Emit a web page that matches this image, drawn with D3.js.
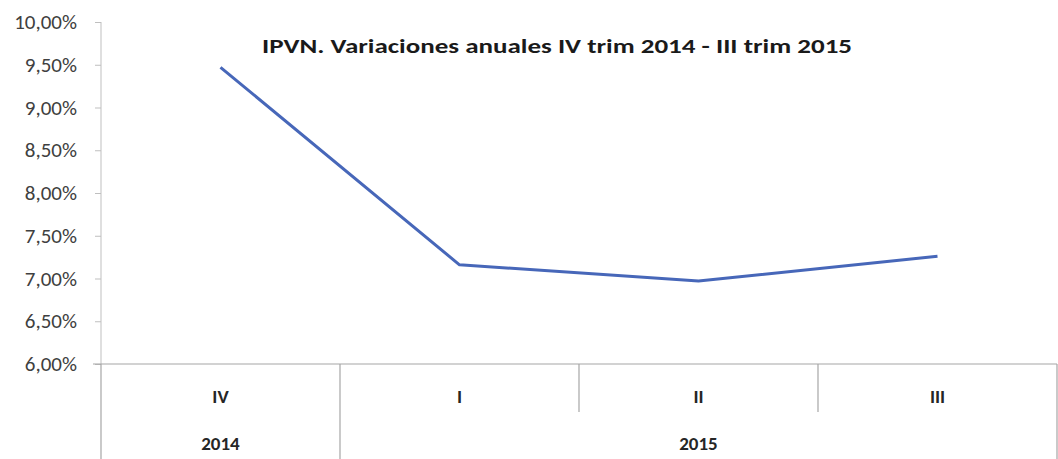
<!DOCTYPE html>
<html>
<head>
<meta charset="utf-8">
<title>IPVN</title>
<script src="https://d3js.org/d3.v7.min.js"></script>
<style>
  body { margin: 0; background: #fff; }
  svg text { font-family: Carlito, "Open Sans", "Liberation Sans", sans-serif; }
</style>
</head>
<body>
<svg id="chart" width="1058" height="459"></svg>
<script>
// data
var quarters = ["IV", "I", "II", "III"];
var years = ["2014", "2015", "2015", "2015"];
var values = [9.47, 7.16, 6.97, 7.26];
var yTicks = [6, 6.5, 7, 7.5, 8, 8.5, 9, 9.5, 10];
var title = "IPVN. Variaciones anuales IV trim 2014 - III trim 2015";

var svg = d3.select("#chart");
var plotLeft = 101, plotRight = 1057, plotTop = 22, plotBottom = 364;

var x = d3.scaleBand().domain(d3.range(quarters.length)).range([plotLeft, plotRight]);
var y = d3.scaleLinear().domain([6, 10]).range([plotBottom, plotTop]);

var fmt = function(d) { return d.toFixed(2).replace(".", ",") + "%"; };

// y axis
var yAxis = d3.axisLeft(y).tickValues(yTicks).tickFormat(fmt).tickSize(6).tickPadding(18);
var gy = svg.append("g").attr("transform", "translate(" + plotLeft + ",0)").call(yAxis);
gy.select(".domain").attr("stroke", "#bfbfbf").attr("d", "M0," + plotTop + "V" + plotBottom);
gy.selectAll(".tick line").attr("stroke", "#bfbfbf");
gy.selectAll(".tick text").attr("fill", "#404040").style("font-size", "21px");

// x axis line
svg.append("line").attr("x1", 93).attr("x2", plotRight).attr("y1", plotBottom).attr("y2", plotBottom)
  .attr("stroke", "#a6a6a6").attr("stroke-width", 1.2);

// category dividers
var bounds = d3.range(quarters.length + 1);
svg.selectAll(".div").data(bounds).enter().append("line")
  .attr("x1", function(i) { return i < quarters.length ? x(i) : plotRight; })
  .attr("x2", function(i) { return i < quarters.length ? x(i) : plotRight; })
  .attr("y1", plotBottom)
  .attr("y2", function(i) {
    if (i === 0 || i === quarters.length) return 459;
    return years[i] !== years[i - 1] ? 459 : 412;
  })
  .attr("stroke", "#a6a6a6").attr("stroke-width", 1.2);

// quarter labels
svg.selectAll(".q").data(quarters).enter().append("text")
  .attr("x", function(d, i) { return x(i) + x.bandwidth() / 2; })
  .attr("y", 403)
  .attr("text-anchor", "middle")
  .style("font-size", "19px").style("font-weight", "bold").attr("fill", "#262626")
  .text(function(d) { return d; });

// year labels
var yearGroups = d3.groups(d3.range(years.length), function(i) { return years[i]; });
svg.selectAll(".yr").data(yearGroups).enter().append("text")
  .attr("x", function(g) {
    var idx = g[1];
    return (x(idx[0]) + x(idx[idx.length - 1]) + x.bandwidth()) / 2;
  })
  .attr("y", 450)
  .attr("text-anchor", "middle")
  .style("font-size", "19px").style("font-weight", "bold").attr("fill", "#262626")
  .text(function(g) { return g[0]; });

// line
var line = d3.line()
  .x(function(d, i) { return x(i) + x.bandwidth() / 2; })
  .y(function(d) { return y(d); });
svg.append("path").datum(values)
  .attr("d", line)
  .attr("fill", "none")
  .attr("stroke", "#4767b9")
  .attr("stroke-width", 3)
  .attr("stroke-linejoin", "round");

// title
svg.append("text")
  .attr("x", 557).attr("y", 53)
  .attr("text-anchor", "middle")
  .attr("textLength", 590).attr("lengthAdjust", "spacingAndGlyphs")
  .style("font-size", "20px").style("font-weight", "bold").attr("fill", "#1a1a1a")
  .text(title);
</script>
</body>
</html>
